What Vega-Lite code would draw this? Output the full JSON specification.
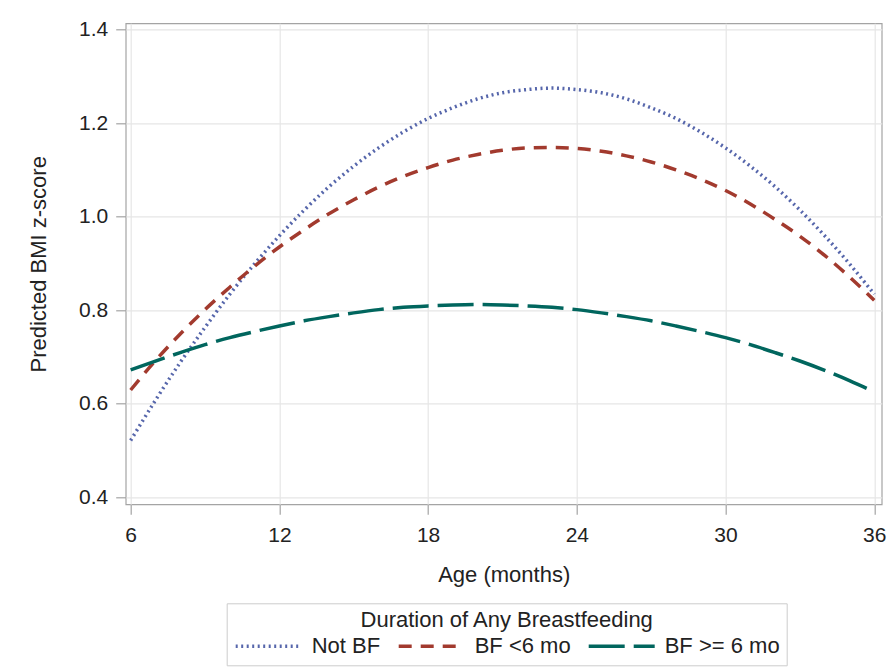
{
  "$schema": "https://vega.github.io/schema/vega-lite/v6.json",
  "width": 756,
  "height": 481,
  "autosize": {"type": "none"},
  "padding": {"left": 125.7, "top": 23.3, "right": 10.3, "bottom": 164.7},
  "background": "white",
  "config": {
    "font": "Liberation Sans",
    "view": {"stroke": "#a4a4a4", "strokeWidth": 1.2},
    "axis": {
      "domain": false,
      "gridColor": "#e6e6e6",
      "gridWidth": 1.2,
      "tickColor": "#a4a4a4",
      "tickSize": 10,
      "tickWidth": 1.2,
      "labelFont": "Liberation Sans",
      "labelFontSize": 21,
      "labelColor": "#222222",
      "titleFont": "Liberation Sans",
      "titleFontSize": 22,
      "titleFontWeight": "normal",
      "titleColor": "#222222"
    }
  },
  "data": {
    "values": [
      {"age": 6, "bmi": 0.521, "group": "Not BF"},
      {"age": 7, "bmi": 0.607, "group": "Not BF"},
      {"age": 8, "bmi": 0.688, "group": "Not BF"},
      {"age": 9, "bmi": 0.763, "group": "Not BF"},
      {"age": 10, "bmi": 0.834, "group": "Not BF"},
      {"age": 11, "bmi": 0.899, "group": "Not BF"},
      {"age": 12, "bmi": 0.959, "group": "Not BF"},
      {"age": 13, "bmi": 1.014, "group": "Not BF"},
      {"age": 14, "bmi": 1.064, "group": "Not BF"},
      {"age": 15, "bmi": 1.108, "group": "Not BF"},
      {"age": 16, "bmi": 1.147, "group": "Not BF"},
      {"age": 17, "bmi": 1.181, "group": "Not BF"},
      {"age": 18, "bmi": 1.210, "group": "Not BF"},
      {"age": 19, "bmi": 1.233, "group": "Not BF"},
      {"age": 20, "bmi": 1.252, "group": "Not BF"},
      {"age": 21, "bmi": 1.265, "group": "Not BF"},
      {"age": 22, "bmi": 1.272, "group": "Not BF"},
      {"age": 23, "bmi": 1.275, "group": "Not BF"},
      {"age": 24, "bmi": 1.272, "group": "Not BF"},
      {"age": 25, "bmi": 1.265, "group": "Not BF"},
      {"age": 26, "bmi": 1.252, "group": "Not BF"},
      {"age": 27, "bmi": 1.233, "group": "Not BF"},
      {"age": 28, "bmi": 1.210, "group": "Not BF"},
      {"age": 29, "bmi": 1.181, "group": "Not BF"},
      {"age": 30, "bmi": 1.147, "group": "Not BF"},
      {"age": 31, "bmi": 1.108, "group": "Not BF"},
      {"age": 32, "bmi": 1.064, "group": "Not BF"},
      {"age": 33, "bmi": 1.014, "group": "Not BF"},
      {"age": 34, "bmi": 0.959, "group": "Not BF"},
      {"age": 35, "bmi": 0.899, "group": "Not BF"},
      {"age": 36, "bmi": 0.834, "group": "Not BF"},
      {"age": 6, "bmi": 0.629, "group": "BF <6 mo"},
      {"age": 7, "bmi": 0.692, "group": "BF <6 mo"},
      {"age": 8, "bmi": 0.749, "group": "BF <6 mo"},
      {"age": 9, "bmi": 0.801, "group": "BF <6 mo"},
      {"age": 10, "bmi": 0.849, "group": "BF <6 mo"},
      {"age": 11, "bmi": 0.894, "group": "BF <6 mo"},
      {"age": 12, "bmi": 0.935, "group": "BF <6 mo"},
      {"age": 13, "bmi": 0.972, "group": "BF <6 mo"},
      {"age": 14, "bmi": 1.006, "group": "BF <6 mo"},
      {"age": 15, "bmi": 1.036, "group": "BF <6 mo"},
      {"age": 16, "bmi": 1.063, "group": "BF <6 mo"},
      {"age": 17, "bmi": 1.086, "group": "BF <6 mo"},
      {"age": 18, "bmi": 1.105, "group": "BF <6 mo"},
      {"age": 19, "bmi": 1.121, "group": "BF <6 mo"},
      {"age": 20, "bmi": 1.133, "group": "BF <6 mo"},
      {"age": 21, "bmi": 1.142, "group": "BF <6 mo"},
      {"age": 22, "bmi": 1.147, "group": "BF <6 mo"},
      {"age": 23, "bmi": 1.148, "group": "BF <6 mo"},
      {"age": 24, "bmi": 1.146, "group": "BF <6 mo"},
      {"age": 25, "bmi": 1.140, "group": "BF <6 mo"},
      {"age": 26, "bmi": 1.130, "group": "BF <6 mo"},
      {"age": 27, "bmi": 1.117, "group": "BF <6 mo"},
      {"age": 28, "bmi": 1.100, "group": "BF <6 mo"},
      {"age": 29, "bmi": 1.080, "group": "BF <6 mo"},
      {"age": 30, "bmi": 1.056, "group": "BF <6 mo"},
      {"age": 31, "bmi": 1.027, "group": "BF <6 mo"},
      {"age": 32, "bmi": 0.994, "group": "BF <6 mo"},
      {"age": 33, "bmi": 0.958, "group": "BF <6 mo"},
      {"age": 34, "bmi": 0.917, "group": "BF <6 mo"},
      {"age": 35, "bmi": 0.871, "group": "BF <6 mo"},
      {"age": 36, "bmi": 0.821, "group": "BF <6 mo"},
      {"age": 6, "bmi": 0.672, "group": "BF >= 6 mo"},
      {"age": 7, "bmi": 0.691, "group": "BF >= 6 mo"},
      {"age": 8, "bmi": 0.709, "group": "BF >= 6 mo"},
      {"age": 9, "bmi": 0.726, "group": "BF >= 6 mo"},
      {"age": 10, "bmi": 0.741, "group": "BF >= 6 mo"},
      {"age": 11, "bmi": 0.754, "group": "BF >= 6 mo"},
      {"age": 12, "bmi": 0.766, "group": "BF >= 6 mo"},
      {"age": 13, "bmi": 0.777, "group": "BF >= 6 mo"},
      {"age": 14, "bmi": 0.786, "group": "BF >= 6 mo"},
      {"age": 15, "bmi": 0.794, "group": "BF >= 6 mo"},
      {"age": 16, "bmi": 0.801, "group": "BF >= 6 mo"},
      {"age": 17, "bmi": 0.806, "group": "BF >= 6 mo"},
      {"age": 18, "bmi": 0.809, "group": "BF >= 6 mo"},
      {"age": 19, "bmi": 0.811, "group": "BF >= 6 mo"},
      {"age": 20, "bmi": 0.812, "group": "BF >= 6 mo"},
      {"age": 21, "bmi": 0.811, "group": "BF >= 6 mo"},
      {"age": 22, "bmi": 0.809, "group": "BF >= 6 mo"},
      {"age": 23, "bmi": 0.806, "group": "BF >= 6 mo"},
      {"age": 24, "bmi": 0.801, "group": "BF >= 6 mo"},
      {"age": 25, "bmi": 0.794, "group": "BF >= 6 mo"},
      {"age": 26, "bmi": 0.786, "group": "BF >= 6 mo"},
      {"age": 27, "bmi": 0.777, "group": "BF >= 6 mo"},
      {"age": 28, "bmi": 0.766, "group": "BF >= 6 mo"},
      {"age": 29, "bmi": 0.754, "group": "BF >= 6 mo"},
      {"age": 30, "bmi": 0.741, "group": "BF >= 6 mo"},
      {"age": 31, "bmi": 0.726, "group": "BF >= 6 mo"},
      {"age": 32, "bmi": 0.709, "group": "BF >= 6 mo"},
      {"age": 33, "bmi": 0.691, "group": "BF >= 6 mo"},
      {"age": 34, "bmi": 0.671, "group": "BF >= 6 mo"},
      {"age": 35, "bmi": 0.649, "group": "BF >= 6 mo"},
      {"age": 36, "bmi": 0.625, "group": "BF >= 6 mo"}
    ]
  },
  "mark": {"type": "line", "interpolate": "monotone", "strokeWidth": 3.5, "strokeCap": "butt"},
  "encoding": {
    "x": {
      "field": "age",
      "type": "quantitative",
      "scale": {"domain": [5.8, 36.3], "nice": false, "zero": false},
      "axis": {"values": [6, 12, 18, 24, 30, 36], "title": "Age (months)", "labelPadding": 10, "titlePadding": 19, "grid": true}
    },
    "y": {
      "field": "bmi",
      "type": "quantitative",
      "scale": {"domain": [0.3844, 1.4137], "nice": false, "zero": false},
      "axis": {"values": [0.4, 0.6, 0.8, 1.0, 1.2, 1.4], "format": ".1f", "title": "Predicted BMI z-score", "labelPadding": 8, "titlePadding": 28, "grid": true}
    },
    "color": {
      "field": "group",
      "type": "nominal",
      "scale": {"domain": ["Not BF", "BF <6 mo", "BF >= 6 mo"], "range": ["#5666ab", "#a23a2e", "#01665e"]},
      "legend": {
        "title": "Duration of Any Breastfeeding",
        "orient": "none",
        "legendX": 101,
        "legendY": 580,
        "direction": "horizontal",
        "titleAnchor": "middle",
        "titleFontSize": 22,
        "titleFontWeight": "normal",
        "titleColor": "#222222",
        "titleFont": "Liberation Sans",
        "titleLimit": 1000,
        "titlePadding": 2,
        "labelFontSize": 22,
        "labelColor": "#222222",
        "labelFont": "Liberation Sans",
        "labelLimit": 400,
        "labelOffset": 8,
        "columnPadding": 16,
        "symbolType": "stroke",
        "symbolSize": 4356,
        "symbolStrokeWidth": 3.5,
        "clipHeight": 24,
        "strokeColor": "#cccccc",
        "padding": 7
      }
    },
    "strokeDash": {
      "field": "group",
      "type": "nominal",
      "scale": {"domain": ["Not BF", "BF <6 mo", "BF >= 6 mo"], "range": [[2, 3.5], [13, 9], [36, 9]]},
      "legend": null
    },
    "order": {"field": "age", "type": "quantitative"}
  }
}
